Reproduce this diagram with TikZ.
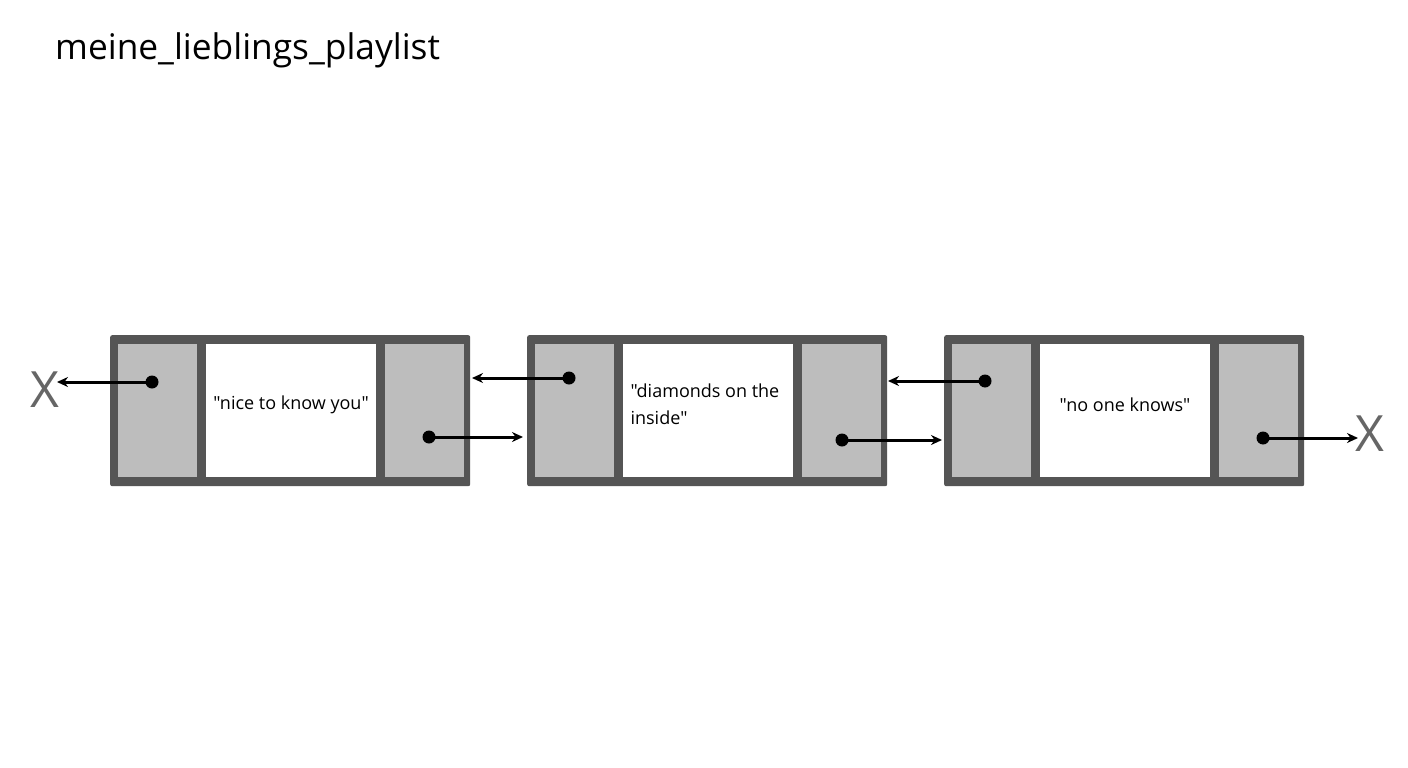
\documentclass[tikz,border=0pt]{standalone}
\usepackage{fontspec}
\setmainfont{Open Sans}
\newfontfamily\cellfont{Open Sans}[Ligatures=ResetAll]
\usetikzlibrary{arrows.meta}
\definecolor{frame}{HTML}{555555}
\definecolor{cellgray}{HTML}{BDBDBD}
\definecolor{xgray}{HTML}{666666}
\tikzset{
  outerbox/.style={draw=none,fill=frame,rounded corners=2pt,minimum width=360pt,minimum height=151pt,inner sep=0pt,anchor=north west},
  ptrcell/.style={draw=none,fill=cellgray,minimum width=79pt,minimum height=133pt,inner sep=0pt,anchor=north west},
  datacell/.style={draw=none,fill=white,minimum width=170pt,minimum height=133pt,inner sep=0pt,anchor=north west},
  dot/.style={circle,fill=black,minimum size=13pt,inner sep=0pt},
  ptr/.style={line width=3pt,-{Stealth[length=11pt,width=10pt]}},
  celltext/.style={font=\cellfont\fontsize{18}{27}\selectfont,text=black},
  nullx/.style={font=\fontsize{50}{50}\selectfont,text=xgray,inner sep=0pt}
}
\begin{document}
\begin{tikzpicture}[x=1pt,y=-1pt]
\useasboundingbox[fill=white] (0,0) rectangle (1408,768);
\node[anchor=west,inner sep=0pt,font=\fontsize{35.3}{40}\selectfont] (title) at (55,50) {meine\_lieblings\_playlist};
% boxes
\foreach \i/\ox in {1/110,2/527,3/944}{
  \node[outerbox] (box\i) at (\ox,335) {};
  \node[ptrcell] (prev\i) at (\ox+8,344) {};
  \node[datacell] (data\i) at (\ox+96,344) {};
  \node[ptrcell] (next\i) at (\ox+275,344) {};
}
\node[celltext] (t1) at (291,405) {"nice to know you"};
\node[celltext,align=left,anchor=west] (t2) at (627,404) {"diamonds on the\\inside"};
\node[celltext] (t3) at (1125,405) {"no one knows"};
% dots
\node[dot] (pd1) at (152,382) {};
\node[dot] (nd1) at (429,437) {};
\node[dot] (pd2) at (569,378) {};
\node[dot] (nd2) at (842,440) {};
\node[dot] (pd3) at (985,381) {};
\node[dot] (nd3) at (1263,438) {};
% null markers
\node[nullx] (xl) at (45,390) {X};
\node[nullx] (xr) at (1370,434) {X};
\coordinate (c12) at (523,437);
\coordinate (c21) at (472,378);
\coordinate (c23) at (942,440);
\coordinate (c32) at (888,381);
\coordinate (xlr) at (57,382);
\coordinate (xrl) at (1358,438);
\draw[ptr] (pd1.center) -- (xlr);
\draw[ptr] (nd1.center) -- (c12);
\draw[ptr] (pd2.center) -- (c21);
\draw[ptr] (nd2.center) -- (c23);
\draw[ptr] (pd3.center) -- (c32);
\draw[ptr] (nd3.center) -- (xrl);
\end{tikzpicture}
\end{document}
